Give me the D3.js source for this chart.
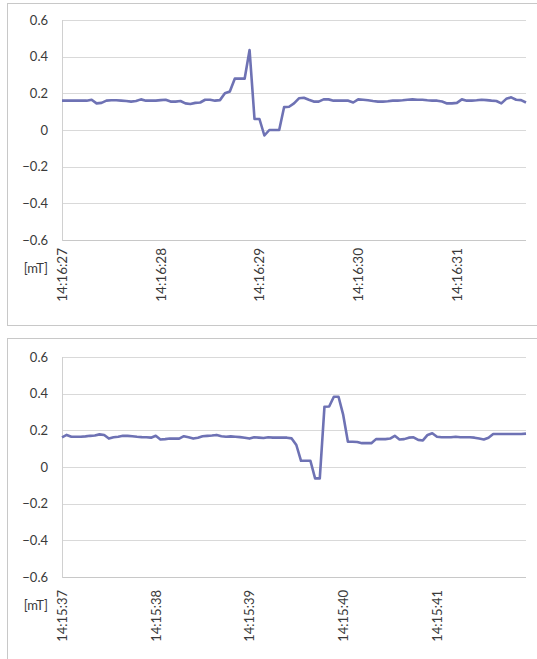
<!DOCTYPE html>
<html><head><meta charset="utf-8">
<script src="https://cdn.jsdelivr.net/npm/d3@7"></script>
<style>
html,body{margin:0;padding:0;background:#fff;}
svg{display:block;}
text{font-family:Lato,"Open Sans",sans-serif;fill:#3a3a3a;}
</style></head>
<body>
<svg id="chart" width="537" height="659"></svg>
<script>
// ---- data ----
const yTicks = [0.6, 0.4, 0.2, 0, -0.2, -0.4, -0.6];
const unitLabel = "[mT]";

const labels1 = ["14:16:27", "14:16:28", "14:16:29", "14:16:30", "14:16:31"];
const values1 = [
  0.16,0.16,0.16,0.16,0.16,0.16,0.165,0.145,0.148,0.16,
  0.162,0.162,0.16,0.158,0.155,0.158,0.167,0.16,0.16,0.16,
  0.163,0.165,0.155,0.155,0.158,0.145,0.142,0.148,0.15,0.165,
  0.165,0.16,0.163,0.2,0.21,0.28,0.28,0.28,0.436,0.06,
  0.06,-0.03,0.0,0.0,0.0,0.125,0.127,0.145,0.173,0.176,
  0.165,0.155,0.155,0.167,0.167,0.16,0.16,0.16,0.16,0.15,
  0.167,0.165,0.162,0.158,0.155,0.155,0.157,0.16,0.16,0.162,
  0.165,0.167,0.165,0.165,0.162,0.16,0.16,0.155,0.145,0.145,
  0.148,0.167,0.16,0.16,0.162,0.165,0.163,0.16,0.158,0.145,
  0.17,0.178,0.165,0.163,0.15
];

const labels2 = ["14:15:37", "14:15:38", "14:15:39", "14:15:40", "14:15:41"];
const values2 = [
  0.162,0.175,0.165,0.165,0.165,0.167,0.17,0.172,0.178,0.175,
  0.155,0.162,0.165,0.17,0.17,0.168,0.165,0.163,0.162,0.16,
  0.17,0.15,0.152,0.155,0.155,0.155,0.168,0.162,0.155,0.16,
  0.168,0.17,0.172,0.175,0.168,0.165,0.167,0.165,0.163,0.16,
  0.155,0.162,0.16,0.158,0.162,0.16,0.16,0.16,0.16,0.156,
  0.12,0.034,0.034,0.034,-0.062,-0.062,0.329,0.33,0.383,0.383,
  0.284,0.138,0.138,0.136,0.13,0.13,0.13,0.152,0.152,0.152,
  0.155,0.17,0.15,0.152,0.16,0.162,0.148,0.145,0.175,0.184,
  0.165,0.162,0.162,0.162,0.165,0.162,0.162,0.162,0.16,0.155,
  0.15,0.16,0.18,0.18,0.18,0.18,0.18,0.18,0.18,0.182
];
const labelEvery = 20;

// ---- drawing ----
const svg = d3.select("#chart");

function panel(values, labels, frame, plot, opt) {
  const g = svg.append("g");
  g.append("rect")
    .attr("x", frame.x + 0.5).attr("y", frame.y + 0.5)
    .attr("width", frame.w).attr("height", frame.h)
    .attr("fill", "#fff").attr("stroke", "#c8c8c8").attr("stroke-width", 1);

  const x = d3.scaleLinear().domain([0, values.length - 1]).range([plot.left, plot.right]);
  const y = d3.scaleLinear().domain([-0.6, 0.6]).range([plot.bottom, plot.top]);

  g.append("g").selectAll("line").data(yTicks).join("line")
    .attr("x1", plot.left).attr("x2", plot.right)
    .attr("y1", d => Math.round(y(d)) + 0.5).attr("y2", d => Math.round(y(d)) + 0.5)
    .attr("stroke", d => d === -0.6 ? "#c8c8c8" : "#d9d9d9").attr("stroke-width", 1);
  g.append("line")
    .attr("x1", plot.left + 0.5).attr("x2", plot.left + 0.5)
    .attr("y1", Math.round(y(0.6))).attr("y2", Math.round(y(-0.6)) + 1)
    .attr("stroke", "#d0d0d0");

  g.append("g").selectAll("text").data(yTicks).join("text")
    .attr("x", plot.left - 14).attr("y", d => y(d))
    .attr("dy", "0.35em").attr("text-anchor", "end")
    .style("font-size", opt.yFont + "px")
    .text(d => d === 0 ? "0" : d3.format(".1f")(d));

  g.append("text")
    .attr("x", plot.left - 14).attr("y", plot.bottom + 28)
    .attr("dy", "0.35em").attr("text-anchor", "end")
    .style("font-size", opt.yFont + "px").text(unitLabel);

  g.append("g").selectAll("text").data(labels).join("text")
    .attr("transform", (d, i) => `translate(${x(i * labelEvery) + 5},${plot.bottom + opt.xGap}) rotate(-90)`)
    .attr("text-anchor", "end")
    .style("font-size", opt.xFont + "px")
    .text(d => d);

  const line = d3.line().x((d, i) => x(i)).y(d => y(d));
  g.append("path").datum(values)
    .attr("d", line)
    .attr("fill", "none")
    .attr("stroke", "#6e72b4")
    .attr("stroke-width", 2.6)
    .attr("stroke-linejoin", "round");
}

panel(values1, labels1,
  {x: 7, y: 3, w: 535, h: 322},
  {left: 62, right: 526, top: 20, bottom: 240},
  {yFont: 13, xFont: 13.5, xGap: 8});
panel(values2, labels2,
  {x: 7, y: 338, w: 535, h: 330},
  {left: 62, right: 526, top: 357, bottom: 577},
  {yFont: 13, xFont: 13, xGap: 13});
</script>
</body></html>
